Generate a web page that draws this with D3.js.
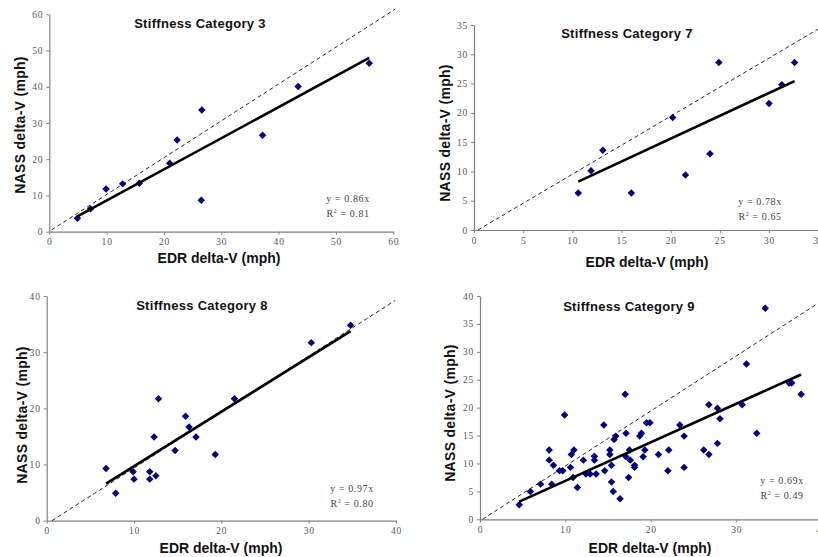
<!DOCTYPE html>
<html>
<head>
<meta charset="utf-8">
<script src="https://cdn.jsdelivr.net/npm/d3@7"></script>
<style>
  body { margin: 0; background: #fff; }
  svg { display: block; }
</style>
</head>
<body>
<svg id="chart" width="818" height="557"></svg>
<script>
// Data
const titles = ["Stiffness Category 3", "Stiffness Category 7", "Stiffness Category 8", "Stiffness Category 9"];
const slopes = [0.86, 0.78, 0.97, 0.69];
const r2 = ["0.81", "0.65", "0.80", "0.49"];
const xMax = [60, 35, 40, 40];
const yMax = [60, 35, 40, 40];
const xStep = [10, 5, 10, 10];
const yStep = [10, 5, 10, 5];

const cat3X = [4.9, 7.2, 9.9, 12.8, 15.7, 21.0, 22.3, 26.6, 26.5, 37.2, 43.4, 55.8];
const cat3Y = [3.7, 6.3, 11.8, 13.2, 13.4, 18.9, 25.3, 33.6, 8.7, 26.6, 40.1, 46.5];

const cat7X = [10.6, 11.9, 13.1, 16.0, 20.2, 21.5, 24.0, 24.9, 30.0, 31.3, 32.6];
const cat7Y = [6.3, 10.1, 13.6, 6.3, 19.2, 9.4, 13.0, 28.6, 21.6, 24.8, 28.6];

const cat8X = [6.8, 7.9, 9.9, 10.0, 11.8, 11.8, 12.5, 12.3, 12.8, 14.7, 15.9, 16.3, 17.1, 19.3, 21.5, 30.3, 34.8];
const cat8Y = [9.3, 4.9, 8.7, 7.4, 8.7, 7.4, 8.0, 14.9, 21.7, 12.5, 18.6, 16.7, 14.9, 11.8, 21.7, 31.7, 34.8];

const cat9X = [4.6, 5.9, 7.1, 8.1, 8.1, 8.4, 8.6, 9.3, 9.7, 9.9, 10.6, 10.7, 11.0, 10.9, 11.4,
  12.1, 12.4, 12.9, 13.4, 13.4, 13.6, 14.5, 14.6, 15.2, 15.2, 15.4, 15.4, 15.6, 15.7, 15.9,
  16.4, 17.0, 17.1, 17.1, 17.4, 17.5, 17.6, 18.1, 18.1, 18.7, 18.9, 19.1, 19.3, 19.5, 19.9,
  20.9, 22.1, 22.0, 23.4, 23.9, 23.9, 26.2, 26.8, 26.8, 27.8, 27.8, 28.1, 30.7, 31.2, 32.4,
  33.4, 36.2, 36.5, 37.6];
const cat9Y = [2.6, 5.0, 6.3, 12.4, 10.6, 6.3, 9.7, 8.7, 8.7, 18.7, 9.3, 11.6, 12.4, 7.5, 5.7,
  10.6, 8.1, 8.1, 11.3, 10.6, 8.1, 16.9, 8.7, 12.4, 11.6, 9.7, 6.7, 5.0, 14.3, 14.9,
  3.7, 22.4, 15.4, 11.2, 7.5, 12.4, 10.6, 9.7, 9.3, 14.9, 15.4, 11.2, 12.4, 17.3, 17.3,
  11.6, 12.4, 8.7, 16.9, 14.9, 9.3, 12.4, 11.6, 20.5, 13.6, 19.9, 18.0, 20.5, 27.8, 15.4,
  37.8, 24.4, 24.4, 22.4];

// dashed y = x reference, [start, end]
const refX = [[0.4, 60.3], [0.4, 35.2], [0.6, 39.9], [0.3, 40.2]];
const refY = [[0.5, 61.4], [0, 34.5], [0, 39.2], [0, 39.3]];

const xs = [cat3X, cat7X, cat8X, cat9X];
const ys = [cat3Y, cat7Y, cat8Y, cat9Y];

// pixel layout of each panel
const layout = [
  { l: 49.3, r: 393.3, t: 14.3, b: 231.7, title: [200, 28], xt: [219, 263], yt: [24.5, 125], eq: [348, 202] },
  { l: 474, r: 818.2, t: 25, b: 230, title: [627, 38], xt: [647, 267], yt: [450, 133], eq: [760, 205] },
  { l: 46.7, r: 396, t: 296, b: 520.7, title: [202, 310], xt: [221, 553], yt: [27, 415], eq: [352, 492] },
  { l: 480, r: 821.6, t: 296, b: 519.3, title: [629, 311], xt: [650, 553], yt: [455, 413], eq: [782, 484] }
];

const svg = d3.select("#chart");
svg.append("rect").attr("width", 818).attr("height", 557).attr("fill", "#fff");

const diamond = d3.symbol().type(d3.symbolSquare).size(28);

layout.forEach((p, i) => {
  const g = svg.append("g");

  const xScale = d3.scaleLinear().domain([0, xMax[i]]).range([p.l, p.r]);
  const yScale = d3.scaleLinear().domain([0, yMax[i]]).range([p.b, p.t]);

  // axes
  const xAxis = d3.axisBottom(xScale)
    .tickValues(d3.range(0, xMax[i] + 0.01, xStep[i]))
    .tickSize(3).tickPadding(4).tickSizeOuter(0);
  const yAxis = d3.axisLeft(yScale)
    .tickValues(d3.range(0, yMax[i] + 0.01, yStep[i]))
    .tickSize(3).tickPadding(3).tickSizeOuter(0);

  [g.append("g").attr("transform", `translate(0,${p.b})`).call(xAxis),
   g.append("g").attr("transform", `translate(${p.l},0)`).call(yAxis)].forEach((a) => {
    a.select(".domain").attr("stroke", "#808080").attr("stroke-width", 1.2);
    a.selectAll(".tick line").attr("stroke", "#808080");
    a.selectAll(".tick text")
      .attr("font-family", "Liberation Serif, Times New Roman, serif")
      .attr("font-size", "9.5px")
      .attr("letter-spacing", "0.8px")
      .attr("fill", "#555");
  });

  // dashed reference line
  g.append("line")
    .attr("x1", xScale(refX[i][0])).attr("y1", yScale(refY[i][0]))
    .attr("x2", xScale(refX[i][1])).attr("y2", yScale(refY[i][1]))
    .attr("stroke", "#111").attr("stroke-width", 0.9)
    .attr("stroke-dasharray", "4,3");

  // points
  const pts = xs[i].map((x, k) => ({ x: x, y: ys[i][k] }));
  g.append("g")
    .selectAll("path")
    .data(pts)
    .enter()
    .append("path")
    .attr("d", diamond)
    .attr("transform", (d) => `translate(${xScale(d.x)},${yScale(d.y)}) rotate(45)`)
    .attr("fill", "#000080");

  // trend line y = slope * x over the data range
  const ext = d3.extent(xs[i]);
  const line = d3.line().x((d) => xScale(d)).y((d) => yScale(d * slopes[i]));
  g.append("path")
    .attr("d", line(ext))
    .attr("fill", "none")
    .attr("stroke", "#000")
    .attr("stroke-width", 2.6);

  // texts
  g.append("text")
    .attr("x", p.title[0]).attr("y", p.title[1])
    .attr("text-anchor", "middle")
    .attr("font-family", "Liberation Sans, Arial, sans-serif")
    .attr("font-weight", "bold").attr("font-size", "13px")
    .attr("letter-spacing", "0.3px")
    .attr("fill", "#111")
    .text(titles[i]);

  g.append("text")
    .attr("x", p.xt[0]).attr("y", p.xt[1])
    .attr("text-anchor", "middle")
    .attr("font-family", "Liberation Sans, Arial, sans-serif")
    .attr("font-weight", "bold").attr("font-size", "14px")
    .attr("fill", "#111")
    .text("EDR delta-V (mph)");

  g.append("text")
    .attr("transform", `translate(${p.yt[0]},${p.yt[1]}) rotate(-90)`)
    .attr("text-anchor", "middle")
    .attr("font-family", "Liberation Sans, Arial, sans-serif")
    .attr("font-weight", "bold").attr("font-size", "14px")
    .attr("letter-spacing", "0.3px")
    .attr("fill", "#111")
    .text("NASS delta-V (mph)");

  const eq = g.append("g")
    .attr("font-family", "Liberation Serif, Times New Roman, serif")
    .attr("font-size", "10px")
    .attr("letter-spacing", "0.6px")
    .attr("fill", "#444")
    .attr("text-anchor", "middle");
  eq.append("text").attr("x", p.eq[0]).attr("y", p.eq[1])
    .text(`y = ${slopes[i].toFixed(2)}x`);
  const rt = eq.append("text").attr("x", p.eq[0]).attr("y", p.eq[1] + 14.5);
  rt.append("tspan").text("R");
  rt.append("tspan").attr("dy", -4).attr("font-size", "6px").text("2");
  rt.append("tspan").attr("dy", 4).text(` = ${r2[i]}`);
});
</script>
</body>
</html>
